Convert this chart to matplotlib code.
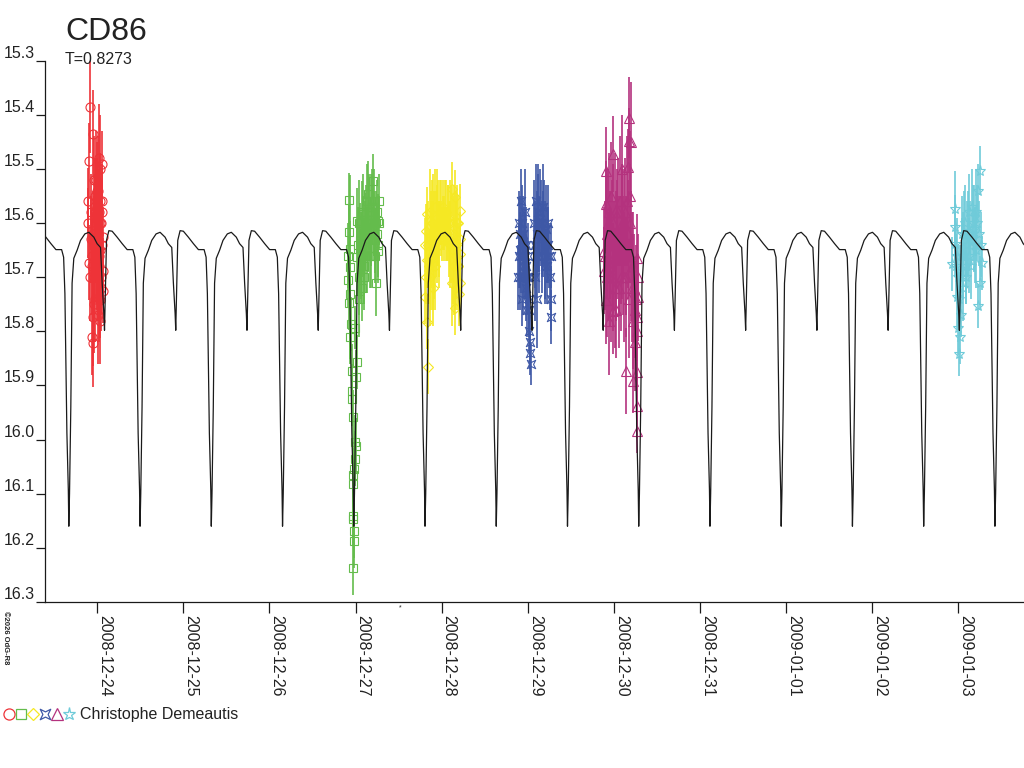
import datetime as dt
import matplotlib
matplotlib.use("Agg")
import matplotlib.pyplot as plt
import matplotlib.dates as mdates
from matplotlib.lines import Line2D
from matplotlib.path import Path
import numpy as np

plt.rcParams['font.family'] = ['Liberation Sans', 'DejaVu Sans']

# ---------------- data ----------------
title = "CD86"
period = 0.8273
observer = "Christophe Demeautis"
tick_dates = ["2008-12-24", "2008-12-25", "2008-12-26", "2008-12-27", "2008-12-28",
              "2008-12-29", "2008-12-30", "2008-12-31", "2009-01-01", "2009-01-02",
              "2009-01-03"]
y_ticks = [15.3, 15.4, 15.5, 15.6, 15.7, 15.8, 15.9, 16.0, 16.1, 16.2, 16.3]

# model light curve template (one cycle, phase from primary minimum)
epoch_days = 7.116   # primary minimum, days after 2008-12-24 0h
model_phase = [0.000, 0.010, 0.028, 0.046, 0.070, 0.117, 0.164, 0.225, 0.281, 0.351,
               0.397, 0.445, 0.468, 0.492, 0.501, 0.515, 0.529, 0.562, 0.608, 0.678,
               0.749, 0.819, 0.899, 0.927, 0.945, 0.959, 0.973, 0.993]
model_mag = [16.160, 16.099, 15.940, 15.711, 15.665, 15.650, 15.632, 15.620, 15.617, 15.626,
             15.638, 15.645, 15.711, 15.767, 15.798, 15.711, 15.632, 15.614, 15.615, 15.626,
             15.638, 15.649, 15.649, 15.663, 15.730, 15.859, 15.988, 16.093]

# observations: days after 2008-12-24 0h, magnitude, error
red_t = [-0.085, -0.046, -0.093, 0.051, -0.104, 0.051, -0.104, 0.070, -0.093, -0.085,
         0.063, 0.070, -0.065, -0.053, -0.046, 0.031, -0.035, -0.030, -0.025, -0.020,
         -0.015, -0.010, -0.005, 0.000, 0.005, 0.010, 0.015, 0.020, 0.025, 0.035,
         0.040, 0.045, -0.040, -0.060, -0.070, 0.012, 0.028, 0.058, -0.075, 0.003,
         -0.058, -0.050, -0.042, -0.034, -0.026, -0.018, -0.008, 0.002, 0.008, 0.018,
         0.022, 0.030, 0.038, 0.048, 0.054, -0.012, 0.016, 0.033]
red_mag = [15.386, 15.435, 15.485, 15.490, 15.559, 15.580, 15.600, 15.626, 15.673, 15.700,
           15.688, 15.725, 15.811, 15.822, 15.774, 15.743, 15.52, 15.58, 15.62, 15.55,
           15.66, 15.60, 15.57, 15.64, 15.70, 15.54, 15.62, 15.68, 15.58, 15.65,
           15.72, 15.60, 15.75, 15.66, 15.58, 15.77, 15.50, 15.56, 15.63, 15.69,
           15.68, 15.62, 15.70, 15.64, 15.74, 15.58, 15.68, 15.54, 15.62, 15.74,
           15.66, 15.60, 15.56, 15.70, 15.64, 15.52, 15.48, 15.78]
red_err = [0.085, 0.080, 0.070, 0.060, 0.060, 0.060, 0.065, 0.055, 0.070, 0.080,
           0.060, 0.060, 0.070, 0.080, 0.090, 0.070, 0.08, 0.07, 0.09, 0.07,
           0.08, 0.07, 0.09, 0.08, 0.08, 0.10, 0.07, 0.09, 0.08, 0.08,
           0.08, 0.07, 0.09, 0.08, 0.07, 0.09, 0.10, 0.07, 0.08, 0.09,
           0.09, 0.08, 0.07, 0.09, 0.08, 0.10, 0.08, 0.09, 0.10, 0.08,
           0.09, 0.08, 0.09, 0.07, 0.08, 0.09, 0.10, 0.08]

green_t = [2.923, 2.919, 2.935, 2.915, 2.935, 2.915, 2.935, 2.923, 2.942, 2.935,
           2.993, 3.013, 2.955, 3.005, 2.955, 2.962, 2.973, 2.993, 3.005, 2.993,
           2.985, 2.966, 2.973, 2.966, 2.973, 2.980, 2.985, 2.973,
           3.206, 3.275, 3.264, 3.148, 3.071, 3.013, 3.226, 3.264, 3.237, 3.109,
           3.051, 3.020, 3.035, 3.060, 3.085, 3.095, 3.120, 3.135, 3.160, 3.175,
           3.190, 3.215, 3.245, 3.040, 3.070, 3.100, 3.185, 3.250,
           3.028, 3.045, 3.065, 3.080, 3.090, 3.105, 3.115, 3.128, 3.142, 3.155,
           3.168, 3.180, 3.198, 3.210, 3.222, 3.232, 3.258, 3.270]
green_mag = [15.557, 15.617, 15.647, 15.660, 15.682, 15.706, 15.731, 15.747, 15.787, 15.811,
             15.793, 15.857, 15.873, 15.885, 15.910, 15.925, 15.959, 16.005, 16.011, 16.035,
             16.054, 16.065, 16.082, 16.141, 16.146, 16.168, 16.187, 16.237,
             15.522, 15.559, 15.596, 15.546, 15.583, 15.596, 15.632, 15.651, 15.711, 15.614,
             15.632, 15.663, 15.70, 15.66, 15.62, 15.68, 15.60, 15.65, 15.58, 15.62,
             15.57, 15.60, 15.58, 15.74, 15.72, 15.70, 15.66, 15.62,
             15.64, 15.60, 15.68, 15.64, 15.58, 15.66, 15.62, 15.56, 15.63, 15.60,
             15.66, 15.58, 15.62, 15.56, 15.66, 15.60, 15.64, 15.60]
green_err = [0.05, 0.05, 0.05, 0.06, 0.17, 0.05, 0.05, 0.05, 0.05, 0.05,
             0.04, 0.05, 0.05, 0.05, 0.05, 0.05, 0.05, 0.05, 0.05, 0.05,
             0.05, 0.05, 0.05, 0.05, 0.05, 0.05, 0.05, 0.05,
             0.05, 0.05, 0.05, 0.06, 0.06, 0.06, 0.06, 0.06, 0.06, 0.07,
             0.07, 0.07, 0.07, 0.08, 0.07, 0.08, 0.07, 0.08, 0.07, 0.06,
             0.07, 0.06, 0.06, 0.07, 0.06, 0.05, 0.06, 0.05,
             0.07, 0.08, 0.07, 0.06, 0.07, 0.07, 0.06, 0.07, 0.06, 0.07,
             0.06, 0.07, 0.05, 0.06, 0.05, 0.06, 0.06, 0.05]

yellow_t = [3.828, 3.819, 3.806, 3.828, 3.819, 3.806, 3.828, 3.845,
            4.212, 4.193, 4.212, 4.212, 4.193, 4.212, 4.204, 4.154, 4.116, 4.154,
            3.860, 3.875, 3.890, 3.905, 3.920, 3.935, 3.950, 3.965, 3.980, 3.995,
            4.010, 4.025, 4.040, 4.055, 4.070, 4.085, 4.100, 4.130, 4.145, 4.170,
            3.870, 3.900, 4.120, 4.180,
            3.845, 3.855, 3.882, 3.897, 3.912, 3.928, 3.942, 3.958, 3.972, 3.988,
            4.002, 4.018, 4.032, 4.048, 4.062, 4.078, 4.092, 4.108, 4.138, 4.162, 4.188]
yellow_mag = [15.583, 15.614, 15.641, 15.669, 15.700, 15.737, 15.783, 15.865,
              15.577, 15.599, 15.629, 15.657, 15.679, 15.710, 15.731, 15.756, 15.537, 15.552,
              15.58, 15.63, 15.60, 15.66, 15.57, 15.62, 15.59, 15.64, 15.58, 15.61,
              15.57, 15.60, 15.58, 15.62, 15.59, 15.63, 15.60, 15.65, 15.62, 15.66,
              15.70, 15.72, 15.71, 15.60,
              15.64, 15.68, 15.66, 15.60, 15.64, 15.68, 15.62, 15.60, 15.63, 15.58,
              15.62, 15.60, 15.62, 15.58, 15.62, 15.60, 15.64, 15.62, 15.68, 15.64, 15.68]
yellow_err = [0.05, 0.05, 0.05, 0.05, 0.05, 0.05, 0.05, 0.05,
              0.05, 0.05, 0.05, 0.05, 0.05, 0.05, 0.06, 0.05, 0.05, 0.05,
              0.08, 0.09, 0.08, 0.10, 0.07, 0.08, 0.09, 0.08, 0.06, 0.05,
              0.05, 0.05, 0.06, 0.05, 0.06, 0.07, 0.08, 0.10, 0.09, 0.10,
              0.09, 0.07, 0.08, 0.07,
              0.08, 0.07, 0.10, 0.09, 0.10, 0.08, 0.09, 0.08, 0.07, 0.06,
              0.05, 0.05, 0.05, 0.06, 0.05, 0.07, 0.08, 0.09, 0.09, 0.10, 0.08]

blue_t = [4.895, 4.905, 4.915, 4.925, 4.935, 4.945, 4.955, 4.965, 4.975, 4.985,
          4.995, 5.005, 5.015, 5.025, 5.035, 5.030, 5.020, 4.900,
          5.075, 5.090, 5.105, 5.120, 5.135, 5.150, 5.165, 5.180, 5.195, 5.210,
          5.225, 5.240, 5.255, 5.270, 5.275, 5.265, 5.085, 5.110,
          4.890, 4.910, 4.920, 4.930, 4.950, 4.960, 4.970, 4.980, 4.990, 5.000,
          5.010, 5.080, 5.095, 5.115, 5.130, 5.145, 5.160, 5.175, 5.190, 5.205,
          5.220, 5.235, 5.250]
blue_mag = [15.60, 15.65, 15.70, 15.56, 15.74, 15.62, 15.68, 15.58, 15.72, 15.64,
            15.76, 15.70, 15.80, 15.84, 15.86, 15.82, 15.76, 15.66,
            15.60, 15.56, 15.62, 15.58, 15.66, 15.60, 15.63, 15.57, 15.65, 15.61,
            15.68, 15.64, 15.70, 15.74, 15.66, 15.774, 15.70, 15.74,
            15.70, 15.62, 15.66, 15.60, 15.70, 15.64, 15.66, 15.68, 15.70, 15.66,
            15.74, 15.64, 15.66, 15.60, 15.62, 15.58, 15.66, 15.62, 15.60, 15.68,
            15.64, 15.60, 15.66]
blue_err = [0.06, 0.07, 0.06, 0.06, 0.05, 0.07, 0.06, 0.08, 0.06, 0.07,
            0.05, 0.06, 0.04, 0.04, 0.04, 0.05, 0.05, 0.06,
            0.08, 0.07, 0.08, 0.09, 0.07, 0.08, 0.07, 0.08, 0.09, 0.08,
            0.07, 0.07, 0.06, 0.06, 0.06, 0.05, 0.08, 0.09,
            0.06, 0.07, 0.07, 0.07, 0.07, 0.07, 0.08, 0.06, 0.07, 0.06,
            0.06, 0.08, 0.08, 0.09, 0.07, 0.08, 0.07, 0.08, 0.08, 0.07,
            0.07, 0.07, 0.06]

magenta_t = [6.178, 6.178, 5.908, 5.986, 6.161, 5.908, 5.889, 5.889, 6.265, 6.284,
             6.284, 5.908, 5.986, 6.265, 6.140, 6.265, 6.226, 6.265, 6.265,
             5.930, 5.950, 5.965, 5.980, 5.995, 6.010, 6.025, 6.040, 6.055, 6.070,
             6.085, 6.100, 6.115, 6.130, 6.145, 6.160, 6.175, 6.190, 6.205, 6.220,
             6.235, 6.250, 5.940, 6.020, 6.090, 6.195,
             5.900, 5.915, 5.922, 5.935, 5.945, 5.958, 5.972, 5.988, 6.002, 6.015,
             6.032, 6.048, 6.062, 6.078, 6.092, 6.108, 6.122, 6.138, 6.152, 6.168,
             6.182, 6.198, 6.212, 6.228, 6.242, 6.258, 6.272]
magenta_mag = [15.405, 15.448, 15.503, 15.472, 15.497, 15.565, 15.651, 15.688, 15.664, 15.700,
               15.737, 15.743, 15.762, 15.774, 15.873, 15.876, 15.891, 15.937, 15.984,
               15.60, 15.68, 15.55, 15.64, 15.70, 15.58, 15.66, 15.62, 15.72, 15.56,
               15.65, 15.60, 15.70, 15.58, 15.66, 15.62, 15.74, 15.55, 15.68, 15.78,
               15.72, 15.82, 15.78, 15.76, 15.50, 15.45,
               15.66, 15.70, 15.62, 15.68, 15.58, 15.64, 15.70, 15.60, 15.66, 15.72,
               15.62, 15.58, 15.66, 15.70, 15.62, 15.66, 15.60, 15.70, 15.56, 15.64,
               15.60, 15.66, 15.72, 15.68, 15.76, 15.74, 15.80]
magenta_err = [0.075, 0.06, 0.08, 0.07, 0.07, 0.08, 0.08, 0.08, 0.08, 0.08,
               0.08, 0.08, 0.08, 0.08, 0.08, 0.07, 0.06, 0.06, 0.04,
               0.10, 0.11, 0.10, 0.12, 0.10, 0.11, 0.12, 0.10, 0.11, 0.12,
               0.10, 0.11, 0.12, 0.10, 0.11, 0.10, 0.11, 0.12, 0.10, 0.09,
               0.10, 0.09, 0.10, 0.09, 0.10, 0.11,
               0.10, 0.11, 0.12, 0.10, 0.11, 0.10, 0.12, 0.11, 0.10, 0.11,
               0.12, 0.10, 0.11, 0.10, 0.12, 0.11, 0.10, 0.11, 0.12, 0.10,
               0.11, 0.12, 0.10, 0.10, 0.09, 0.10, 0.09]

cyan_t = [10.251, 10.232, 9.961, 9.961, 9.999, 10.019, 10.011, 10.232, 10.271, 10.251,
          9.930, 9.961, 9.980, 10.040, 10.060, 10.080, 10.100, 10.120, 10.140, 10.160,
          10.180, 10.200, 10.220, 10.050, 10.090, 10.150, 9.995, 10.030,
          9.975, 9.990, 10.005, 10.025, 10.045, 10.070, 10.085, 10.110, 10.130, 10.170,
          10.190, 10.210, 10.240, 10.260]
cyan_mag = [15.503, 15.540, 15.574, 15.608, 15.793, 15.811, 15.842, 15.753, 15.673, 15.710,
            15.676, 15.639, 15.737, 15.62, 15.66, 15.60, 15.64, 15.58, 15.62, 15.57,
            15.61, 15.65, 15.60, 15.72, 15.70, 15.68, 15.70, 15.77,
            15.68, 15.66, 15.74, 15.70, 15.66, 15.62, 15.68, 15.62, 15.66, 15.60,
            15.64, 15.58, 15.62, 15.64]
cyan_err = [0.045, 0.05, 0.07, 0.06, 0.05, 0.05, 0.04, 0.04, 0.05, 0.05,
            0.05, 0.06, 0.06, 0.07, 0.08, 0.07, 0.08, 0.07, 0.06, 0.07,
            0.08, 0.07, 0.07, 0.06, 0.05, 0.06, 0.06, 0.04,
            0.06, 0.07, 0.05, 0.06, 0.07, 0.08, 0.07, 0.08, 0.07, 0.07,
            0.07, 0.08, 0.06, 0.06]

# ---------------- styling ----------------
C_RED = '#EE3338'
C_GREEN = '#64BC4C'
C_YELLOW = '#F5E823'
C_BLUE = '#3E58A6'
C_MAGENTA = '#B4327E'
C_CYAN = '#6FCBD9'
C_TEXT = '#222222'

concave_square = Path([(-1, -1), (0, -0.5), (1, -1), (0.5, 0), (1, 1), (0, 0.5),
                       (-1, 1), (-0.5, 0), (-1, -1)],
                      [Path.MOVETO] + [Path.LINETO] * 7 + [Path.CLOSEPOLY])

series = [
    (red_t, red_mag, red_err, C_RED, 'o', 6.5),
    (green_t, green_mag, green_err, C_GREEN, 's', 5.5),
    (yellow_t, yellow_mag, yellow_err, C_YELLOW, 'D', 5.0),
    (blue_t, blue_mag, blue_err, C_BLUE, concave_square, 6.0),
    (magenta_t, magenta_mag, magenta_err, C_MAGENTA, '^', 6.5),
    (cyan_t, cyan_mag, cyan_err, C_CYAN, '*', 8.0),
]

W, H = 1024, 768
fig = plt.figure(figsize=(W / 100, H / 100), dpi=100)
fig.patch.set_facecolor('white')
ax = fig.add_axes([45 / W, (H - 602) / H, 1 - 45 / W, (602 - 60.7) / H])

base = mdates.date2num(dt.datetime(2008, 12, 24))

for t, m, e, col, mk, ms in series:
    ax.errorbar(base + np.array(t), m, yerr=e, fmt='none', ecolor=col,
                elinewidth=1.2, capsize=0, zorder=2)
    ax.plot(base + np.array(t), m, ls='none', marker=mk, ms=ms, mfc='none',
            mec=col, mew=0.8, zorder=3)

# model light curve: template repeated with the period
xlim = (base - 0.6063, base + 10.763)
mt, mm = [], []
for n in range(-10, 6):
    for ph, mg in zip(model_phase, model_mag):
        mt.append(base + epoch_days + (n + ph) * period)
        mm.append(mg)
ax.plot(mt, mm, color='#1a1a1a', lw=0.9, zorder=4)

ax.set_xlim(*xlim)
ax.set_ylim(16.3, 15.3)

for s in ['top', 'right']:
    ax.spines[s].set_visible(False)
for s in ['left', 'bottom']:
    ax.spines[s].set_color('#1a1a1a')
    ax.spines[s].set_linewidth(0.9)

ax.set_yticks(y_ticks)
ax.set_yticklabels([f"{v:.1f}" for v in y_ticks])
ax.tick_params(axis='y', direction='out', length=6.5, width=0.9, color='#1a1a1a',
               pad=23.5, labelsize=11.5, labelcolor=C_TEXT)
for lab in ax.get_yticklabels():
    lab.set_ha('left')
    lab.set_va('bottom')

xt = [mdates.date2num(dt.datetime.strptime(d, "%Y-%m-%d")) for d in tick_dates]
ax.set_xticks(xt)
ax.set_xticklabels(tick_dates)
ax.tick_params(axis='x', direction='out', length=8, width=0.9, color='#1a1a1a',
               pad=1.5, labelsize=11.5, labelcolor=C_TEXT)
for lab in ax.get_xticklabels():
    lab.set_rotation(270)
    lab.set_ha('left')
    lab.set_va('top')

# titles
fig.text(65 / W, 1 - 40 / H, title, fontsize=23, color=C_TEXT, va='baseline', ha='left')
fig.text(65 / W, 1 - 64 / H, f"T={period}", fontsize=11.5, color=C_TEXT,
         va='baseline', ha='left')

# copyright note
fig.text(2 / W, 1 - 611 / H, "©2026 OdG-R8", rotation=270, fontsize=5.5,
         color=C_TEXT, ha='left', va='top', fontweight='bold')
fig.text(400 / W, 1 - 608 / H, "*", fontsize=5, color=C_TEXT, ha='center', va='center')

# legend
lx = [9.3, 21.3, 33.3, 45.0, 56.7, 69.0]
ly = 1 - 714 / H
for x, (_, _, _, col, mk, ms) in zip(lx, series):
    fig.add_artist(Line2D([x / W], [ly], transform=fig.transFigure, marker=mk,
                          ms=ms + 1.5, mfc='none', mec=col, mew=0.9, ls='none'))
fig.text(80 / W, ly, observer, fontsize=11.5, color=C_TEXT, ha='left', va='center')

fig.savefig("out.png", dpi=100, facecolor='white')
